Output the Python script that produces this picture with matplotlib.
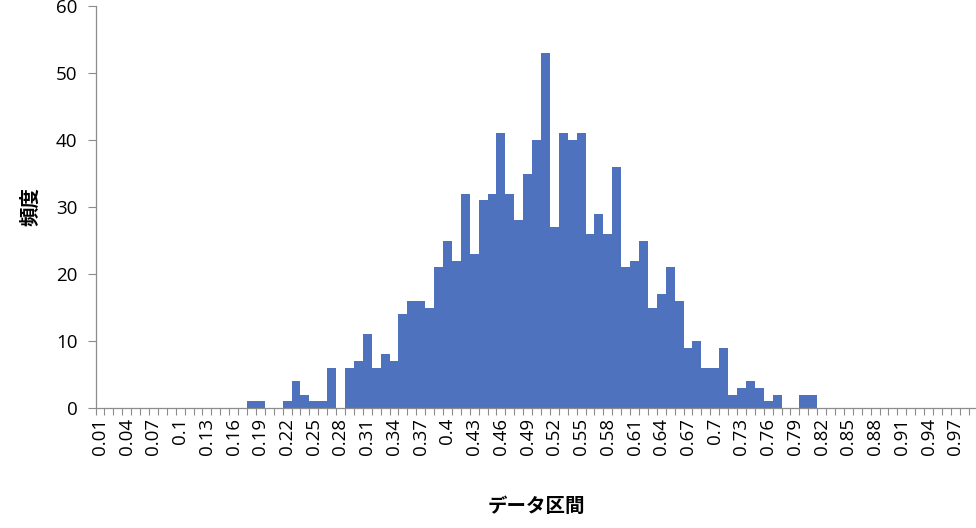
import numpy as np
import matplotlib
matplotlib.use("Agg")
import matplotlib.pyplot as plt

plt.rcParams['font.family'] = ['Open Sans', 'Noto Sans CJK JP', 'DejaVu Sans']

# データ区間 (0.01 ~ 0.99)
bins = [f"{i / 100:g}" for i in range(1, 100)]

# 頻度
counts = [0] * 17 + [
    1, 1, 0, 0, 1, 4, 2, 1, 1, 6,        # 0.18 - 0.27
    0, 6, 7, 11, 6, 8, 7, 14, 16, 16,    # 0.28 - 0.37
    15, 21, 25, 22, 32, 23, 31, 32, 41, 32,  # 0.38 - 0.47
    28, 35, 40, 53, 27, 41, 40, 41, 26, 29,  # 0.48 - 0.57
    26, 36, 21, 22, 25, 15, 17, 21, 16, 9,   # 0.58 - 0.67
    10, 6, 6, 9, 2, 3, 4, 3, 1, 2,           # 0.68 - 0.77
    0, 0, 2, 2,                              # 0.78 - 0.81
] + [0] * 18

label_step = 3
bar_color = '#4E72BE'
axis_color = '#8C8C8C'
jp_font = ['Noto Sans CJK JP', 'DejaVu Sans']

fig = plt.figure(figsize=(9.76, 5.28), dpi=100)
ax = fig.add_axes([95.5 / 976, 120 / 528, 882 / 976, 402 / 528])

x = np.arange(len(bins))
ax.bar(x, counts, width=1.0, color=bar_color, linewidth=0)

ax.set_xlim(-0.5, len(bins) - 0.5)
ax.set_ylim(0, 60)
ax.set_yticks(np.arange(0, 61, 10))

# ラベルは3区間ごと、目盛り線は区間の境目
ax.set_xticks(x[::label_step])
ax.set_xticklabels(bins[::label_step], rotation=90, fontsize=13.5)
ax.set_xticks(np.arange(-0.5, len(bins)), minor=True)
ax.tick_params(axis='x', which='major', length=0, pad=7)
ax.tick_params(axis='x', which='minor', length=5, color=axis_color, width=0.8)
ax.tick_params(axis='y', length=6, color=axis_color, width=0.8, labelsize=13.5, pad=7)

for side in ['top', 'right']:
    ax.spines[side].set_visible(False)
for side in ['left', 'bottom']:
    ax.spines[side].set_color(axis_color)
    ax.spines[side].set_linewidth(0.9)

ax.set_xlabel('データ区間', fontsize=14, fontweight='bold', labelpad=30, family=jp_font)
ax.set_ylabel('頻度', fontsize=14, fontweight='bold', labelpad=11, family=jp_font)

fig.savefig('out.png', dpi=100)
